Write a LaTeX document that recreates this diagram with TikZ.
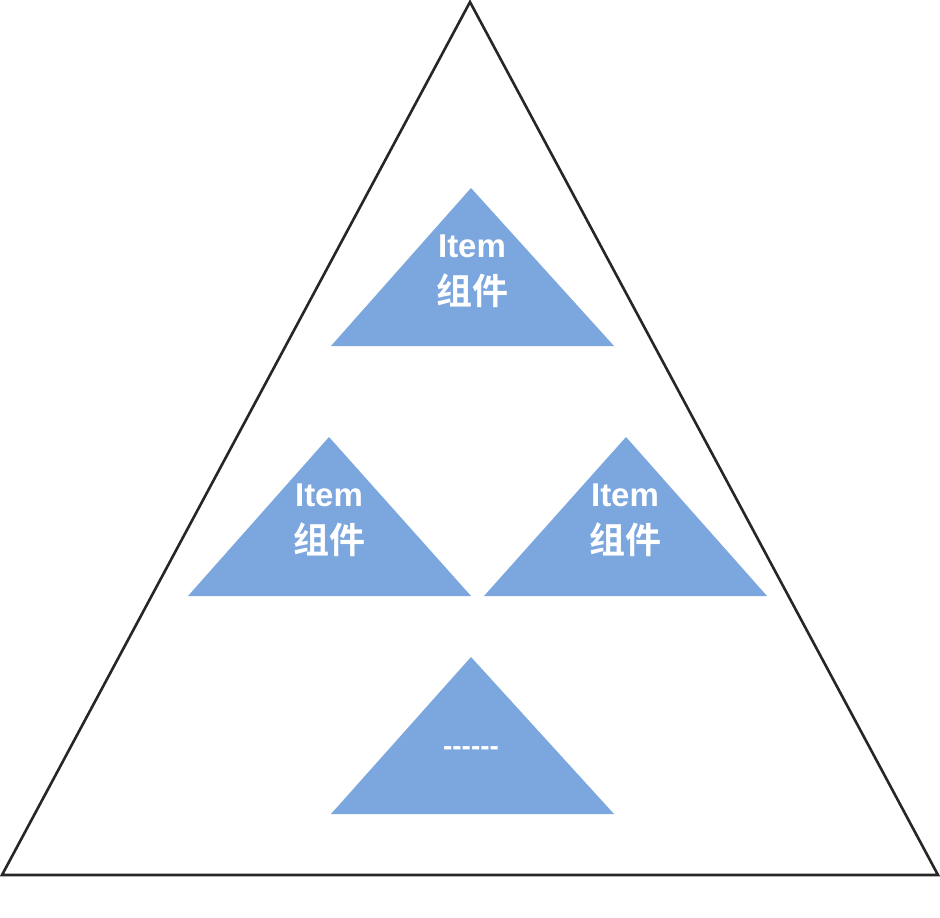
\documentclass[tikz,border=0pt]{standalone}
\usepackage{fontspec}
\setmainfont{Liberation Sans}
\newfontfamily\cjk{Noto Sans CJK SC}[BoldFont={Noto Sans CJK SC Bold}]
\definecolor{itemblue}{RGB}{123,166,222}
\begin{document}
\begin{tikzpicture}[x=1pt,y=-1pt,
  outer/.style={draw=black!85, line width=2.6pt, line join=miter},
  itemtri/.style={fill=itemblue},
  latin/.style={text=white, font=\fontsize{33}{33}\selectfont\bfseries, inner sep=0pt},
  cjktext/.style={text=white, font=\cjk\fontsize{36}{36}\selectfont\bfseries, inner sep=0pt},
  dots/.style={text=white, font=\fontsize{28}{28}\selectfont\bfseries, inner sep=0pt, anchor=base}]
\useasboundingbox (0,0) rectangle (940,918);
\fill[white] (0,0) rectangle (940,918);
% outer triangle
\draw[outer] (470,2) -- (938,875) -- (2,875) -- cycle;
% inner triangles
\fill[itemtri] (471,188) -- (614,346) -- (331,346) -- cycle;
\fill[itemtri] (329,437) -- (471,596) -- (188,596) -- cycle;
\fill[itemtri] (626,437) -- (767,596) -- (484,596) -- cycle;
\fill[itemtri] (471,657) -- (614,814) -- (331,814) -- cycle;
% labels
\node[latin] (t1) at (472,246) {Item};
\node[cjktext] (c1) at (472,291) {组件};
\node[latin] (t2) at (329,495) {Item};
\node[cjktext] (c2) at (329,540) {组件};
\node[latin] (t3) at (625,495) {Item};
\node[cjktext] (c3) at (625,540) {组件};
\node[dots] (d4) at (471,755) {-{}-{}-{}-{}-{}-};
\end{tikzpicture}
\end{document}
